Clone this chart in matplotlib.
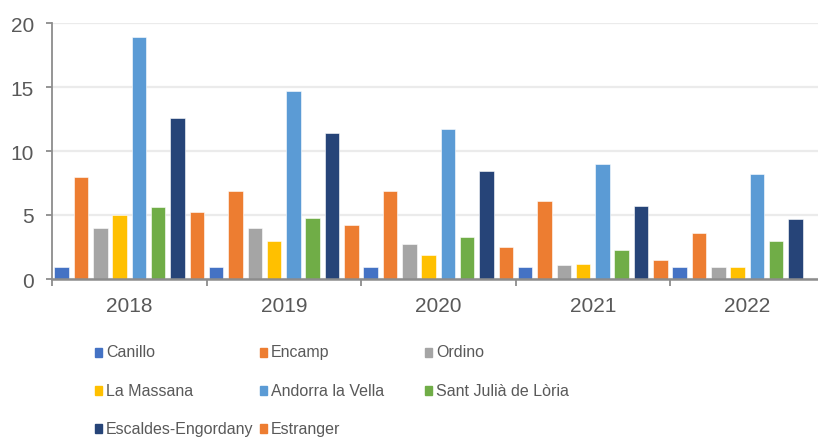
import numpy as np
import matplotlib
matplotlib.use("Agg")
import matplotlib.pyplot as plt
from matplotlib import font_manager
from matplotlib.patches import Rectangle

plt.rcParams['font.family'] = ['Liberation Sans', 'DejaVu Sans']

years = ['2018', '2019', '2020', '2021', '2022']
canillo = [0.9, 0.9, 0.9, 0.9, 0.9]
encamp = [8.0, 6.9, 6.9, 6.1, 3.6]
ordino = [4.0, 4.0, 2.7, 1.1, 0.9]
la_massana = [5.0, 3.0, 1.9, 1.2, 0.9]
andorra_vella = [18.9, 14.7, 11.7, 9.0, 8.2]
sant_julia = [5.6, 4.8, 3.3, 2.3, 3.0]
escaldes = [12.6, 11.4, 8.4, 5.7, 4.7]
estranger = [5.2, 4.2, 2.5, 1.5, 0.0]

names = ['Canillo', 'Encamp', 'Ordino', 'La Massana', 'Andorra la Vella',
         'Sant Julià de Lòria', 'Escaldes-Engordany', 'Estranger']
series = [canillo, encamp, ordino, la_massana, andorra_vella,
          sant_julia, escaldes, estranger]
colors = ['#4472C4', '#ED7D31', '#A5A5A5', '#FFC000', '#5B9BD5',
          '#70AD47', '#264478', '#ED7D31']

text_color = '#595959'
W, H = 818, 439

# legend text in the original is narrow and tall; use the narrow face if present
installed = {f.name for f in font_manager.fontManager.ttflist}
if 'Liberation Sans Narrow' in installed:
    leg_font, leg_size = ['Liberation Sans Narrow', 'DejaVu Sans'], 14
else:
    leg_font, leg_size = ['Liberation Sans', 'DejaVu Sans'], 11.5

fig = plt.figure(figsize=(W / 100, H / 100), dpi=100)
ax = fig.add_axes([52 / W, 1 - 280 / H, 772.5 / W, 256 / H])

n = len(series)
x = np.arange(len(years))
for j, (vals, col) in enumerate(zip(series, colors)):
    pos = x - 0.5 + (j + 0.5) / n
    ax.bar(pos, vals, width=0.094, color=col, edgecolor='white',
           linewidth=0.4, zorder=3)

ax.set_xlim(-0.5, len(years) - 0.5)
ax.set_ylim(0, 20)
ax.set_yticks(np.arange(0, 21, 5))
ax.grid(axis='y', color='#EBEBEB', linewidth=1.6, zorder=0)

# category boundaries as major ticks, labels on minor ticks
ax.set_xticks(np.arange(-0.5, len(years), 1.0))
ax.set_xticklabels([])
ax.set_xticks(x, minor=True)
ax.set_xticklabels(years, minor=True)
ax.tick_params(axis='x', which='major', length=5, width=1.3, color='#8C8C8C', direction='out')
ax.tick_params(axis='x', which='minor', length=0, pad=12, labelsize=15, labelcolor=text_color)
ax.tick_params(axis='y', length=4, width=1.3, color='#8C8C8C', pad=9,
               labelsize=15, labelcolor=text_color)

for s in ['top', 'right']:
    ax.spines[s].set_visible(False)
ax.spines['left'].set_color('#8C8C8C')
ax.spines['left'].set_linewidth(1.3)
ax.spines['bottom'].set_color('#8C8C8C')
ax.spines['bottom'].set_linewidth(1.8)
ax.spines['bottom'].set_zorder(4)

# legend laid out like the spreadsheet: three columns, row by row
leg = fig.add_axes([0, 0, 1, 1])
leg.set_xlim(0, W)
leg.set_ylim(H, 0)
leg.axis('off')
col_x = [95, 260, 425]
row_y = [353, 391.5, 429.5]
for k, (name, col) in enumerate(zip(names, colors)):
    r, c = divmod(k, 3)
    leg.add_patch(Rectangle((col_x[c], row_y[r] - 4.5), 7, 9, color=col))
    leg.text(col_x[c] + 11, row_y[r], name, fontsize=leg_size, color=text_color,
             family=leg_font, va='center', ha='left')

fig.savefig('out.png', dpi=100)
